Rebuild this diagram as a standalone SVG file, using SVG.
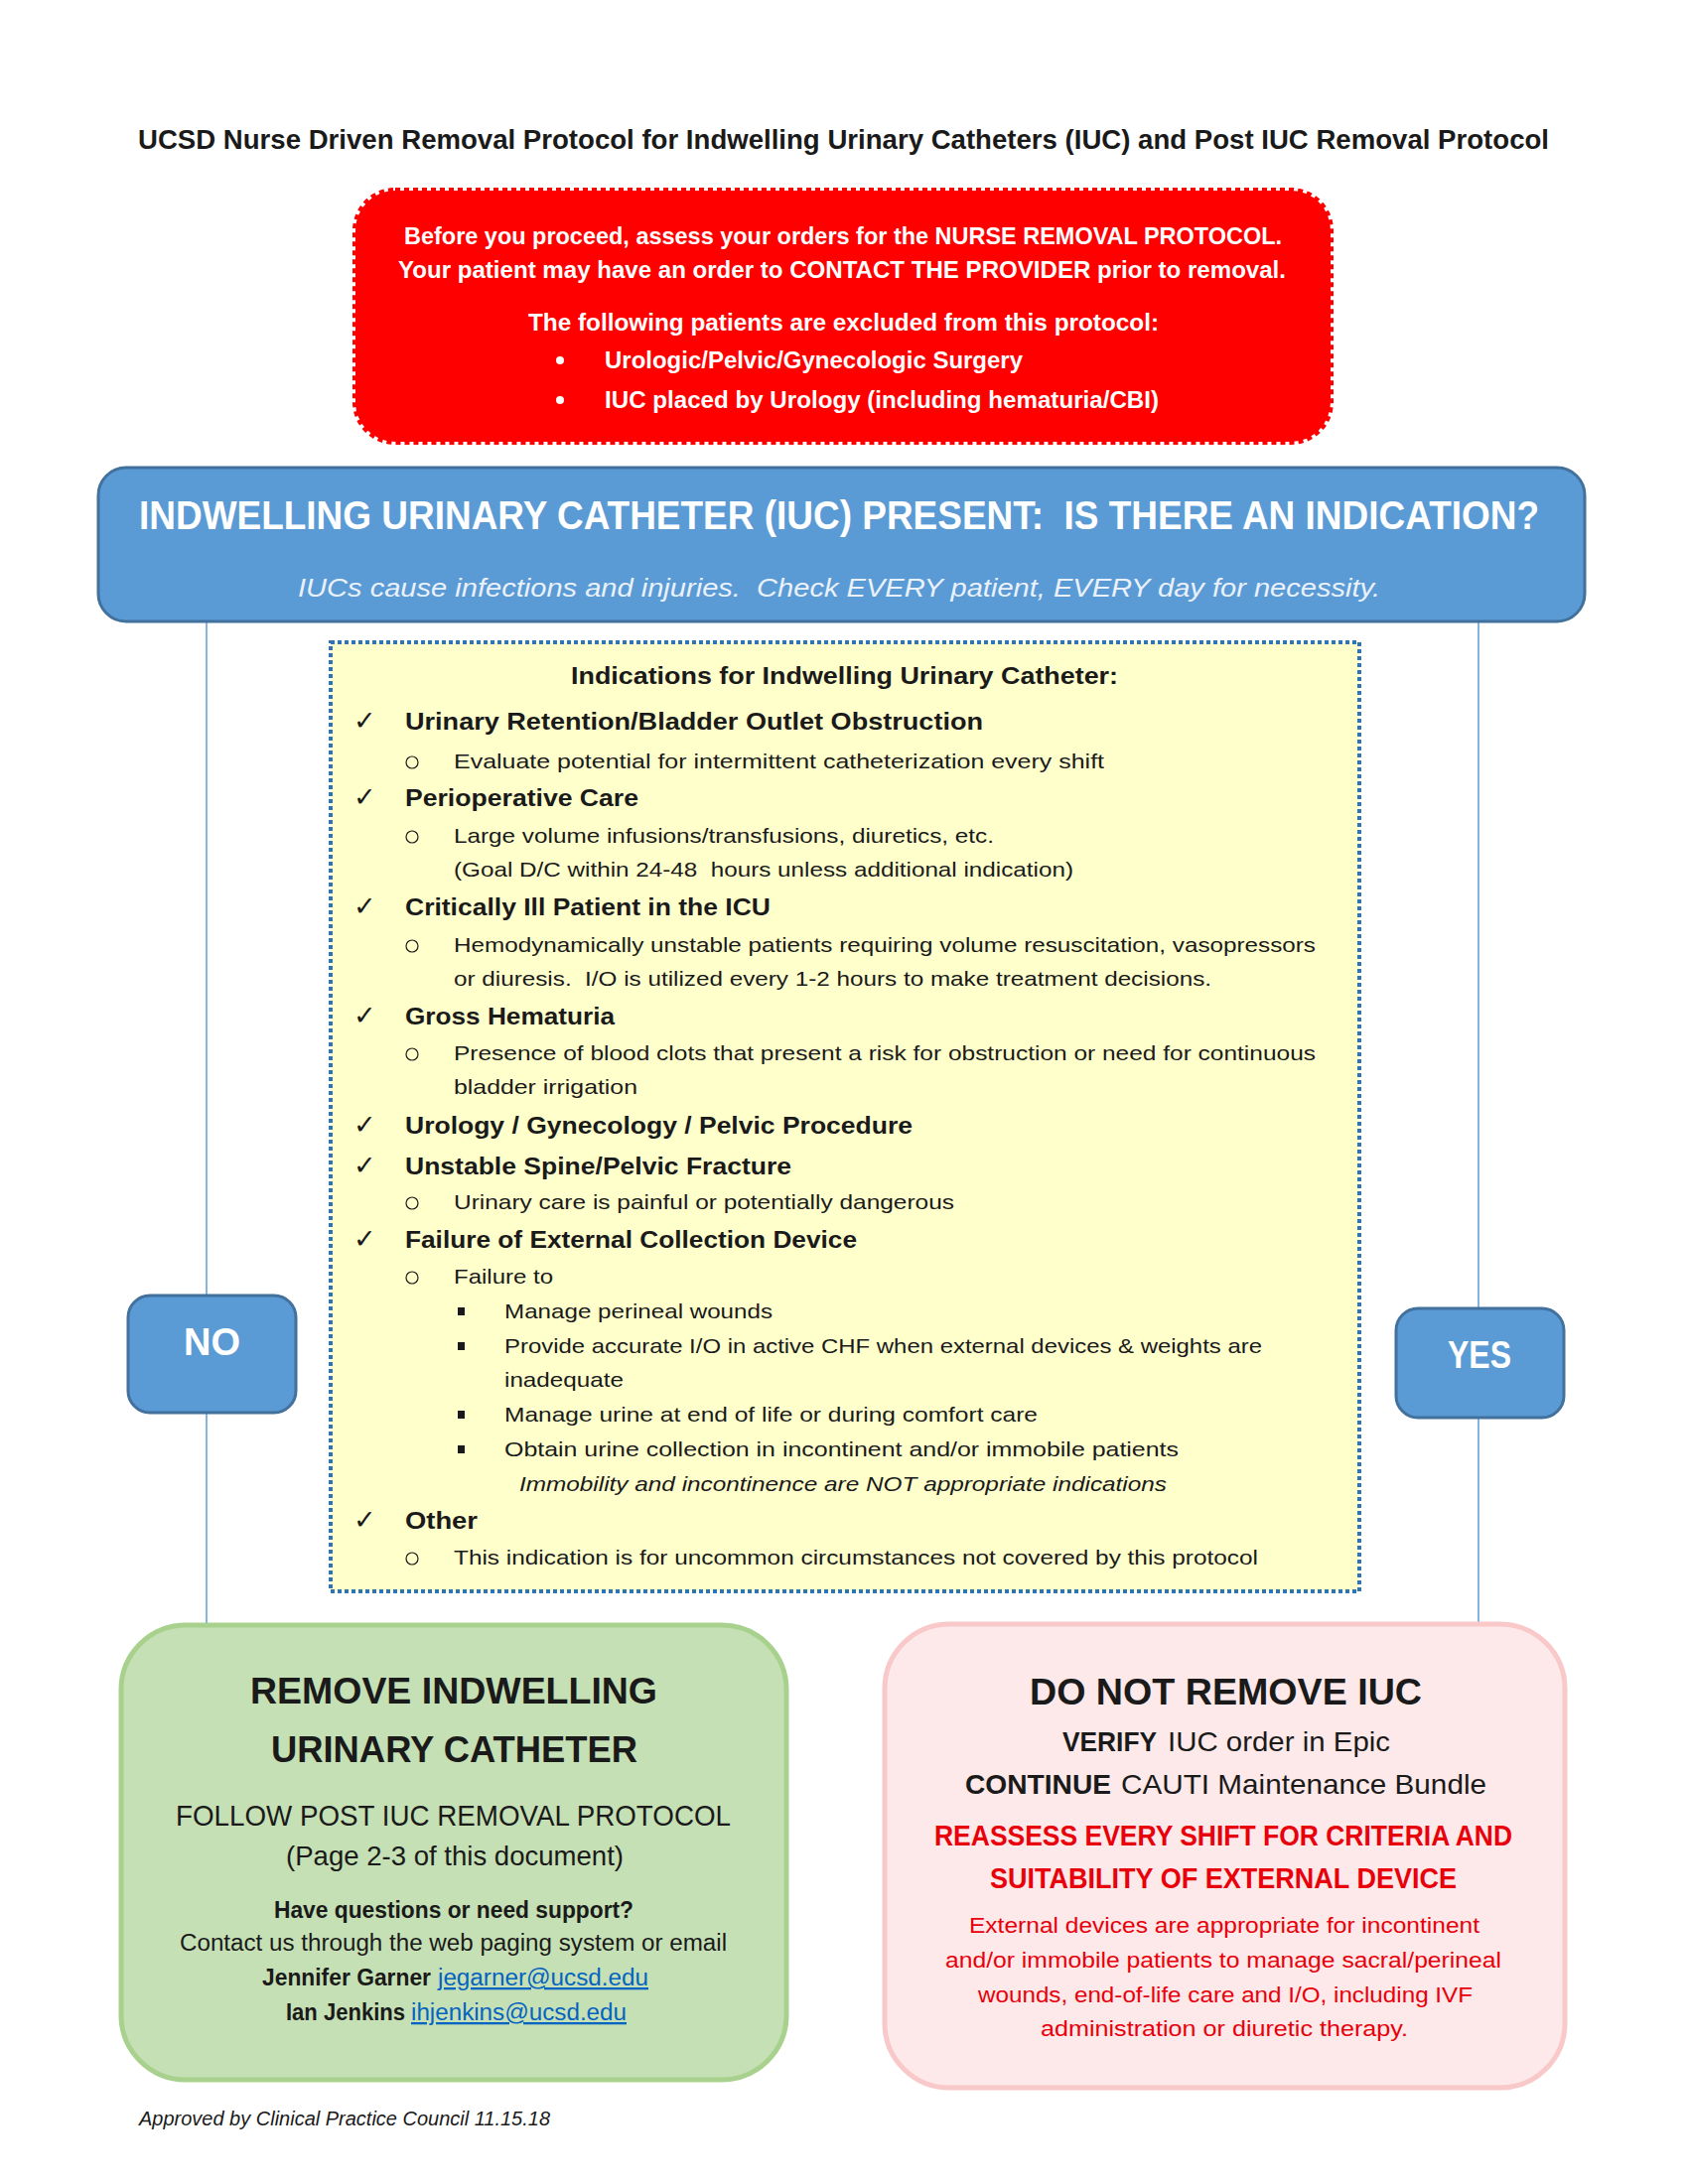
<svg xmlns="http://www.w3.org/2000/svg" width="1700" height="2200" viewBox="0 0 1700 2200">
<style>
text{font-family:"Liberation Sans",Arial,sans-serif;white-space:pre;}
.b{font-weight:bold;}
.it{font-style:italic;}
.w{fill:#FFFFFF;}
.k{fill:#1A1A1A;}
.r{fill:#E8000B;}
.h{font-size:24px;font-weight:bold;fill:#1A1A1A;}
.s{font-size:21px;fill:#1A1A1A;}
.chk{font-family:"DejaVu Sans",sans-serif;font-size:27px;fill:#1A1A1A;}
.bul{fill:none;stroke:#1A1A1A;stroke-width:1.2;}
.sq{fill:#1A1A1A;}
.conn{stroke:#5B9BD5;stroke-width:1.5;fill:none;}
.blue{fill:#5B9BD5;stroke:#41719C;stroke-width:3;}
.lnk{fill:#0563C1;text-decoration:underline;}
</style>

<g id="title">
<text x="139" y="150" class="b k" font-size="27" textLength="1421" lengthAdjust="spacingAndGlyphs">UCSD Nurse Driven Removal Protocol for Indwelling Urinary Catheters (IUC) and Post IUC Removal Protocol</text>
</g>

<g id="connectors">
<line class="conn" x1="208" y1="626" x2="208" y2="1638"/>
<line class="conn" x1="1489" y1="626" x2="1489" y2="1638"/>
</g>

<g id="warning">
<rect x="358" y="192" width="982" height="253" rx="40" ry="40" fill="#FF0000" stroke="#FF0000" stroke-width="6" stroke-dasharray="5 4"/>
<text x="407" y="246" class="b w" font-size="23" textLength="884" lengthAdjust="spacingAndGlyphs">Before you proceed, assess your orders for the NURSE REMOVAL PROTOCOL.</text>
<text x="401" y="280" class="b w" font-size="23" textLength="894" lengthAdjust="spacingAndGlyphs">Your patient may have an order to CONTACT THE PROVIDER prior to removal.</text>
<text x="532" y="333" class="b w" font-size="23" textLength="635" lengthAdjust="spacingAndGlyphs">The following patients are excluded from this protocol:</text>
<circle cx="564" cy="363" r="4" fill="#FFFFFF"/>
<text x="609" y="371" class="b w" font-size="23" textLength="421" lengthAdjust="spacingAndGlyphs">Urologic/Pelvic/Gynecologic Surgery</text>
<circle cx="564" cy="403" r="4" fill="#FFFFFF"/>
<text x="609" y="411" class="b w" font-size="23" textLength="558" lengthAdjust="spacingAndGlyphs">IUC placed by Urology (including hematuria/CBI)</text>
</g>

<g id="question">
<rect x="99" y="471" width="1497" height="155" rx="28" ry="28" class="blue"/>
<text x="140" y="533" class="b w" font-size="40" textLength="1410" lengthAdjust="spacingAndGlyphs">INDWELLING URINARY CATHETER (IUC) PRESENT:  IS THERE AN INDICATION?</text>
<text x="300" y="601" class="it" fill="#EAF1FB" font-size="26" textLength="1090" lengthAdjust="spacingAndGlyphs">IUCs cause infections and injuries.  Check EVERY patient, EVERY day for necessity.</text>
</g>

<g id="indications">
<rect x="333" y="647" width="1036" height="956" fill="#FFFFCC" stroke="#2E75B6" stroke-width="4" stroke-dasharray="4 3"/>
<text x="575" y="689" class="b k" font-size="24" textLength="551" lengthAdjust="spacingAndGlyphs">Indications for Indwelling Urinary Catheter:</text>

<text x="356" y="735" class="chk">✓</text>
<text x="408" y="735" class="h" textLength="582" lengthAdjust="spacingAndGlyphs">Urinary Retention/Bladder Outlet Obstruction</text>
<circle cx="415" cy="768" r="6" class="bul"/>
<text x="457" y="774" class="s" textLength="655" lengthAdjust="spacingAndGlyphs">Evaluate potential for intermittent catheterization every shift</text>

<text x="356" y="812" class="chk">✓</text>
<text x="408" y="812" class="h" textLength="235" lengthAdjust="spacingAndGlyphs">Perioperative Care</text>
<circle cx="415" cy="843" r="6" class="bul"/>
<text x="457" y="849" class="s" textLength="544" lengthAdjust="spacingAndGlyphs">Large volume infusions/transfusions, diuretics, etc.</text>
<text x="457" y="883" class="s" textLength="624" lengthAdjust="spacingAndGlyphs">(Goal D/C within 24-48  hours unless additional indication)</text>

<text x="356" y="922" class="chk">✓</text>
<text x="408" y="922" class="h" textLength="368" lengthAdjust="spacingAndGlyphs">Critically Ill Patient in the ICU</text>
<circle cx="415" cy="953" r="6" class="bul"/>
<text x="457" y="959" class="s" textLength="868" lengthAdjust="spacingAndGlyphs">Hemodynamically unstable patients requiring volume resuscitation, vasopressors</text>
<text x="457" y="993" class="s" textLength="763" lengthAdjust="spacingAndGlyphs">or diuresis.  I/O is utilized every 1-2 hours to make treatment decisions.</text>

<text x="356" y="1032" class="chk">✓</text>
<text x="408" y="1032" class="h" textLength="211" lengthAdjust="spacingAndGlyphs">Gross Hematuria</text>
<circle cx="415" cy="1062" r="6" class="bul"/>
<text x="457" y="1068" class="s" textLength="868" lengthAdjust="spacingAndGlyphs">Presence of blood clots that present a risk for obstruction or need for continuous</text>
<text x="457" y="1102" class="s" textLength="185" lengthAdjust="spacingAndGlyphs">bladder irrigation</text>

<text x="356" y="1142" class="chk">✓</text>
<text x="408" y="1142" class="h" textLength="511" lengthAdjust="spacingAndGlyphs">Urology / Gynecology / Pelvic Procedure</text>

<text x="356" y="1183" class="chk">✓</text>
<text x="408" y="1183" class="h" textLength="389" lengthAdjust="spacingAndGlyphs">Unstable Spine/Pelvic Fracture</text>
<circle cx="415" cy="1212" r="6" class="bul"/>
<text x="457" y="1218" class="s" textLength="504" lengthAdjust="spacingAndGlyphs">Urinary care is painful or potentially dangerous</text>

<text x="356" y="1257" class="chk">✓</text>
<text x="408" y="1257" class="h" textLength="455" lengthAdjust="spacingAndGlyphs">Failure of External Collection Device</text>
<circle cx="415" cy="1287" r="6" class="bul"/>
<text x="457" y="1293" class="s" textLength="100" lengthAdjust="spacingAndGlyphs">Failure to</text>
<rect x="461" y="1317" width="7" height="8" class="sq"/>
<text x="508" y="1328" class="s" textLength="270" lengthAdjust="spacingAndGlyphs">Manage perineal wounds</text>
<rect x="461" y="1352" width="7" height="8" class="sq"/>
<text x="508" y="1363" class="s" textLength="763" lengthAdjust="spacingAndGlyphs">Provide accurate I/O in active CHF when external devices &amp; weights are</text>
<text x="508" y="1397" class="s" textLength="120" lengthAdjust="spacingAndGlyphs">inadequate</text>
<rect x="461" y="1421" width="7" height="8" class="sq"/>
<text x="508" y="1432" class="s" textLength="537" lengthAdjust="spacingAndGlyphs">Manage urine at end of life or during comfort care</text>
<rect x="461" y="1456" width="7" height="8" class="sq"/>
<text x="508" y="1467" class="s" textLength="679" lengthAdjust="spacingAndGlyphs">Obtain urine collection in incontinent and/or immobile patients</text>
<text x="523" y="1502" class="s it" textLength="652" lengthAdjust="spacingAndGlyphs">Immobility and incontinence are NOT appropriate indications</text>

<text x="356" y="1540" class="chk">✓</text>
<text x="408" y="1540" class="h" textLength="73" lengthAdjust="spacingAndGlyphs">Other</text>
<circle cx="415" cy="1570" r="6" class="bul"/>
<text x="457" y="1576" class="s" textLength="810" lengthAdjust="spacingAndGlyphs">This indication is for uncommon circumstances not covered by this protocol</text>
</g>

<g id="no">
<rect x="129" y="1305" width="169" height="118" rx="22" ry="22" class="blue"/>
<text x="185" y="1365" class="b w" font-size="38" textLength="57" lengthAdjust="spacingAndGlyphs">NO</text>
</g>

<g id="yes">
<rect x="1406" y="1318" width="169" height="110" rx="22" ry="22" class="blue"/>
<text x="1458" y="1378" class="b w" font-size="38" textLength="64" lengthAdjust="spacingAndGlyphs">YES</text>
</g>

<g id="remove">
<rect x="122" y="1637" width="670" height="458" rx="65" ry="65" fill="#C5E0B4" stroke="#A9D18E" stroke-width="5"/>
<text x="252" y="1716" class="b k" font-size="37" textLength="410" lengthAdjust="spacingAndGlyphs">REMOVE INDWELLING</text>
<text x="273" y="1775" class="b k" font-size="37" textLength="369" lengthAdjust="spacingAndGlyphs">URINARY CATHETER</text>
<text x="177" y="1839" class="k" font-size="29" textLength="559" lengthAdjust="spacingAndGlyphs">FOLLOW POST IUC REMOVAL PROTOCOL</text>
<text x="288" y="1879" class="k" font-size="28" textLength="340" lengthAdjust="spacingAndGlyphs">(Page 2-3 of this document)</text>
<text x="276" y="1932" class="b k" font-size="23" textLength="362" lengthAdjust="spacingAndGlyphs">Have questions or need support?</text>
<text x="181" y="1965" class="k" font-size="23" textLength="551" lengthAdjust="spacingAndGlyphs">Contact us through the web paging system or email</text>
<text x="264" y="2000" class="b k" font-size="23" textLength="170" lengthAdjust="spacingAndGlyphs">Jennifer Garner</text>
<text x="441" y="2000" class="lnk" font-size="23" textLength="212" lengthAdjust="spacingAndGlyphs">jegarner@ucsd.edu</text>
<text x="288" y="2035" class="b k" font-size="23" textLength="120" lengthAdjust="spacingAndGlyphs">Ian Jenkins</text>
<text x="414" y="2035" class="lnk" font-size="23" textLength="217" lengthAdjust="spacingAndGlyphs">ihjenkins@ucsd.edu</text>
</g>

<g id="keep">
<rect x="891" y="1636" width="685" height="467" rx="65" ry="65" fill="#FDE9E9" stroke="#F9C8C8" stroke-width="5"/>
<text x="1037" y="1717" class="b k" font-size="37" textLength="395" lengthAdjust="spacingAndGlyphs">DO NOT REMOVE IUC</text>
<text x="1070" y="1764" class="b k" font-size="28" textLength="95" lengthAdjust="spacingAndGlyphs">VERIFY</text>
<text x="1176" y="1764" class="k" font-size="28" textLength="224" lengthAdjust="spacingAndGlyphs">IUC order in Epic</text>
<text x="972" y="1807" class="b k" font-size="28" textLength="147" lengthAdjust="spacingAndGlyphs">CONTINUE</text>
<text x="1129" y="1807" class="k" font-size="28" textLength="368" lengthAdjust="spacingAndGlyphs">CAUTI Maintenance Bundle</text>
<text x="941" y="1859" class="b r" font-size="29" textLength="582" lengthAdjust="spacingAndGlyphs">REASSESS EVERY SHIFT FOR CRITERIA AND</text>
<text x="997" y="1902" class="b r" font-size="29" textLength="470" lengthAdjust="spacingAndGlyphs">SUITABILITY OF EXTERNAL DEVICE</text>
<text x="976" y="1947" class="r" font-size="22" textLength="514" lengthAdjust="spacingAndGlyphs">External devices are appropriate for incontinent</text>
<text x="952" y="1982" class="r" font-size="22" textLength="560" lengthAdjust="spacingAndGlyphs">and/or immobile patients to manage sacral/perineal</text>
<text x="985" y="2017" class="r" font-size="22" textLength="498" lengthAdjust="spacingAndGlyphs">wounds, end-of-life care and I/O, including IVF</text>
<text x="1048" y="2051" class="r" font-size="22" textLength="370" lengthAdjust="spacingAndGlyphs">administration or diuretic therapy.</text>
</g>

<g id="footer">
<text x="140" y="2141" class="it k" font-size="20" textLength="414" lengthAdjust="spacingAndGlyphs">Approved by Clinical Practice Council 11.15.18</text>
</g>
</svg>
